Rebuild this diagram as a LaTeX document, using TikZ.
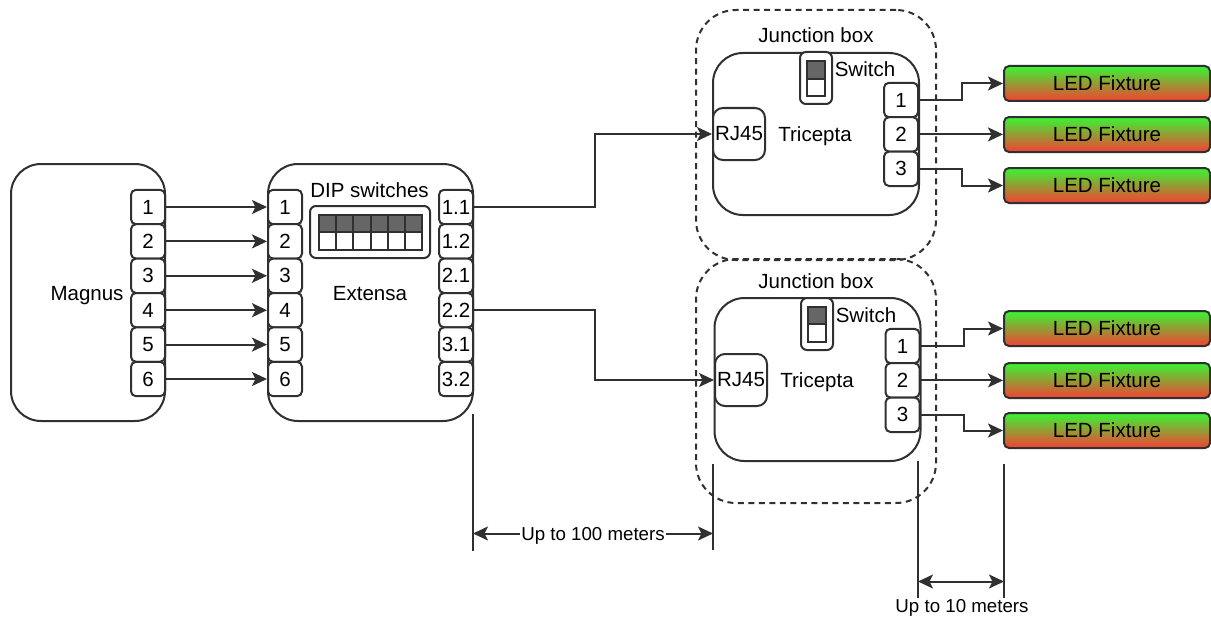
\documentclass[tikz,border=0pt]{standalone}
\usepackage{fontspec}
\setmainfont{Liberation Sans}
\usetikzlibrary{positioning}
\usetikzlibrary{arrows.meta,arrows}
\definecolor{ln}{HTML}{303030}
\definecolor{ledtop}{HTML}{38F533}
\definecolor{ledbot}{HTML}{F53F33}
\definecolor{swdark}{HTML}{666666}

\begin{document}
\begin{tikzpicture}[x=1pt, y=-1pt, node distance={34.4pt}, line width=2pt, draw=ln, font=\fontsize{20.5}{24}\selectfont,
      main/.style={draw=ln, rounded corners=30pt, inner sep=0pt},
      group/.style={draw=ln, dash pattern=on 6pt off 4.5pt, rounded corners=40pt, minimum width=240pt},
      port/.style={draw=ln, fill=white, rounded corners=5pt, minimum width=34pt, minimum height=34.4pt, inner sep=0pt},
      rj/.style={draw=ln, fill=white, rounded corners=10pt, minimum width=52pt, minimum height=52pt, inner sep=0pt},
      holder/.style={draw=ln, fill=white, rounded corners=6pt, inner sep=0pt},
      cell/.style={draw=ln, minimum width=17.2pt, minimum height=17.5pt, inner sep=0pt},
      cellon/.style={cell, fill=swdark},
      celloff/.style={cell, fill=white},
      led/.style={draw=ln, rounded corners=5pt, top color=ledtop, bottom color=ledbot, minimum width=206pt, minimum height=35pt, inner sep=0pt},
      lbl/.style={inner sep=0pt, text height=14.6pt, text depth=0pt},
      dim/.style={font=\fontsize{18.7}{22}\selectfont, inner sep=1pt, text height=13.4pt, text depth=0pt},
      ar/.style={-{Stealth[length=15pt, width=14pt, inset=3.5pt]}},
      ard/.style={{Stealth[length=15pt, width=14pt, inset=3.5pt]}-{Stealth[length=15pt, width=14pt, inset=3.5pt]}}]
      \useasboundingbox (0,0) rectangle (1211,618);

      % groups
      \node[group, minimum height=250pt] (box1) at (816,135) {};
      \node[group, minimum height=244pt] (box2) at (816,381) {};
      \node[lbl] (boxlabel1) at (816,35) {Junction box};
      \node[lbl] (boxlabel2) at (816,281) {Junction box};

      % Magnus
      \node[main, minimum width=154pt, minimum height=257pt] (magnus) at (88,292.5) {};
      \node[lbl] (magnuslabel) at (87,293) {Magnus};
      \node[port] (m1) at (148,207) {1};
      \node[port] (m2) [below of=m1]{2};
      \node[port] (m3) [below of=m2]{3};
      \node[port] (m4) [below of=m3]{4};
      \node[port] (m5) [below of=m4]{5};
      \node[port] (m6) [below of=m5]{6};

      % Extensa
      \node[main, minimum width=205pt, minimum height=257pt] (extensa) at (370.5,292.5) {};
      \node[lbl] (extensalabel) at (370,293) {Extensa};
      \node[lbl] (diplabel) at (369.5,190) {DIP switches};
      \node[port] (e1) at (285,207) {1};
      \node[port] (e2) [below of=e1]{2};
      \node[port] (e3) [below of=e2]{3};
      \node[port] (e4) [below of=e3]{4};
      \node[port] (e5) [below of=e4]{5};
      \node[port] (e6) [below of=e5]{6};
      \node[port] (o1) at (456,207) {1.1};
      \node[port] (o2) [below of=o1]{1.2};
      \node[port] (o3) [below of=o2]{2.1};
      \node[port] (o4) [below of=o3]{2.2};
      \node[port] (o5) [below of=o4]{3.1};
      \node[port] (o6) [below of=o5]{3.2};

      % DIP switches
      \node[holder, minimum width=120pt, minimum height=52pt] (dip) at (370,232) {};
      \node[cellon] (d1) at (327.6,223.7) {};
      \node[cellon] (d2) [right=-2pt of d1]{};
      \node[cellon] (d3) [right=-2pt of d2]{};
      \node[cellon] (d4) [right=-2pt of d3]{};
      \node[cellon] (d5) [right=-2pt of d4]{};
      \node[cellon] (d6) [right=-2pt of d5]{};
      \node[celloff] (u1) [below=-2pt of d1]{};
      \node[celloff] (u2) [below=-2pt of d2]{};
      \node[celloff] (u3) [below=-2pt of d3]{};
      \node[celloff] (u4) [below=-2pt of d4]{};
      \node[celloff] (u5) [below=-2pt of d5]{};
      \node[celloff] (u6) [below=-2pt of d6]{};

      % first Tricepta
      \node[main, minimum width=206pt, minimum height=162pt] (tri1) at (816,134) {};
      \node[lbl] (trilabel1) at (815,134) {Tricepta};
      \node[rj] (rj1) at (739,134) {RJ45};
      \node[holder, minimum width=32pt, minimum height=52pt] (sw1) at (816,78) {};
      \node[cell, fill=swdark] (s1a) at (816,70) {};
      \node[celloff] (s1b) [below=-2pt of s1a]{};
      \node[lbl] (swlabel1) at (865,69) {Switch};
      \node[port] (t1) at (901,100) {1};
      \node[port] (t2) [below of=t1]{2};
      \node[port] (t3) [below of=t2]{3};

      % second Tricepta
      \node[main, minimum width=206pt, minimum height=163pt] (tri2) at (817.5,379.5) {};
      \node[lbl] (trilabel2) at (817,380) {Tricepta};
      \node[rj] (rj2) at (741,380) {RJ45};
      \node[holder, minimum width=32pt, minimum height=52pt] (sw2) at (817,324) {};
      \node[cell, fill=swdark] (s2a) at (817,315.5) {};
      \node[celloff] (s2b) [below=-2pt of s2a]{};
      \node[lbl] (swlabel2) at (866,315) {Switch};
      \node[port] (r1) at (902.5,346) {1};
      \node[port] (r2) [below of=r1]{2};
      \node[port] (r3) [below of=r2]{3};

      % fixtures
      \node[led] (f1) at (1107,83.5) {LED Fixture};
      \node[led] (f2) at (1107,134.5) {LED Fixture};
      \node[led] (f3) at (1107,185.5) {LED Fixture};
      \node[led] (f4) at (1107,328.5) {LED Fixture};
      \node[led] (f5) at (1107,380.5) {LED Fixture};
      \node[led] (f6) at (1107,430.5) {LED Fixture};

      % connectors
      \draw[ar] (m1) -- (e1);
      \draw[ar] (m2) -- (e2);
      \draw[ar] (m3) -- (e3);
      \draw[ar] (m4) -- (e4);
      \draw[ar] (m5) -- (e5);
      \draw[ar] (m6) -- (e6);
      \draw[ar] (o1.east) -- ++(121,0) |- (rj1.west);
      \draw[ar] (o4.east) -- ++(121,0) |- (rj2.west);
      \draw[ar] (t1.east) -- ++(43,0) |- (f1.west);
      \draw[ar] (t2.east) -- (f2.west |- t2.east);
      \draw[ar] (t3.east) -- ++(43,0) |- (f3.west);
      \draw[ar] (r1.east) -- ++(43,0) |- (f4.west);
      \draw[ar] (r2.east) -- (f5.west |- r2.east);
      \draw[ar] (r3.east) -- ++(43,0) |- (f6.west);

      % distances
      \coordinate (ta) at (473,414);
      \coordinate (tb) at (473,551);
      \coordinate (ua) at (713,464);
      \coordinate (ub) at (713,550);
      \coordinate (va) at (918,461);
      \coordinate (vb) at (918,598);
      \coordinate (wa) at (1004,464);
      \coordinate (wb) at (1004,598);
      \coordinate (tm) at (473,533.5);
      \coordinate (um) at (713,533.5);
      \coordinate (vm) at (918,581.5);
      \coordinate (wm) at (1004,581.5);
      \draw (ta) -- (tb);
      \draw (ua) -- (ub);
      \draw (va) -- (vb);
      \draw (wa) -- (wb);
      \draw[ard] (tm) -- (um) node [midway, dim, fill=white] (dist1) {Up to 100 meters};
      \draw[ard] (vm) -- (wm);
      \node[dim] (dist2) at (962,605.5) {Up to 10 meters};
    \end{tikzpicture}
\end{document}
